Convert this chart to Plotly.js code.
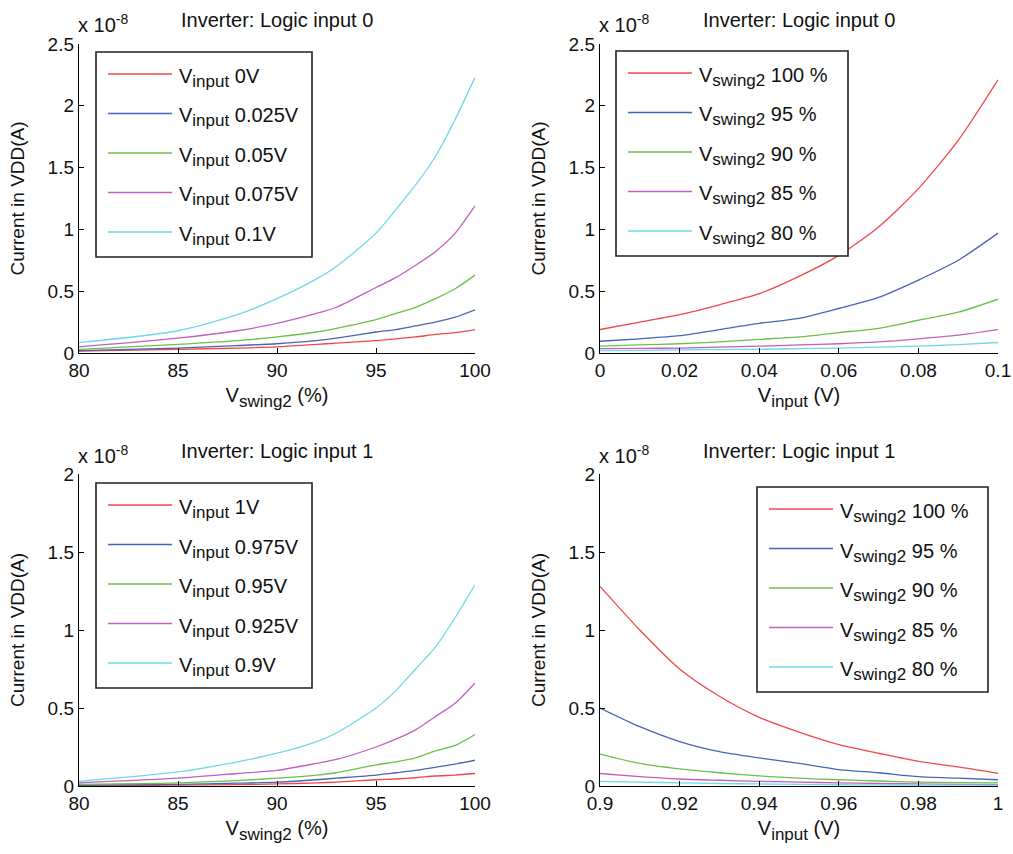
<!DOCTYPE html>
<html>
<head>
<meta charset="utf-8">
<script src="https://cdn.plot.ly/plotly-3.0.1.min.js"></script>
<style>html,body{margin:0;padding:0;background:#fff;}#chart{width:1013px;height:854px;}</style>
</head>
<body>
<div id="chart"></div>
<script>
// Values in units of 1e-8 A
const vswing = [80, 85, 88, 90, 92, 93, 95, 96, 97, 98, 99, 100];
const vin0 = [0, 0.01, 0.02, 0.03, 0.04, 0.05, 0.06, 0.07, 0.08, 0.09, 0.1];
const vin1 = [0.9, 0.91, 0.92, 0.93, 0.94, 0.95, 0.96, 0.97, 0.98, 0.99, 1.0];

// Panel 1: logic input 0, current vs Vswing2, one series per Vinput
const p1Labels = ["0V", "0.025V", "0.05V", "0.075V", "0.1V"];
const p1_0V    = [0.015, 0.03, 0.04, 0.05, 0.07, 0.08, 0.10, 0.115, 0.13, 0.15, 0.165, 0.19];
const p1_025V  = [0.02, 0.04, 0.06, 0.075, 0.10, 0.12, 0.17, 0.19, 0.22, 0.25, 0.29, 0.35];
const p1_05V   = [0.03, 0.07, 0.10, 0.13, 0.17, 0.20, 0.27, 0.32, 0.37, 0.44, 0.52, 0.63];
const p1_075V  = [0.05, 0.12, 0.18, 0.24, 0.32, 0.37, 0.53, 0.61, 0.71, 0.82, 0.97, 1.19];
const p1_1V    = [0.084, 0.18, 0.31, 0.44, 0.60, 0.70, 0.97, 1.16, 1.36, 1.59, 1.89, 2.23];

// Panel 2: logic input 0, current vs Vinput, one series per Vswing2
const p2Labels = ["100 %", "95 %", "90 %", "85 %", "80 %"];
const p2_100 = [0.19, 0.25, 0.31, 0.39, 0.48, 0.62, 0.79, 1.02, 1.33, 1.72, 2.21];
const p2_95  = [0.095, 0.115, 0.14, 0.19, 0.24, 0.28, 0.36, 0.45, 0.59, 0.75, 0.97];
const p2_90  = [0.055, 0.065, 0.075, 0.09, 0.11, 0.13, 0.165, 0.20, 0.265, 0.33, 0.435];
const p2_85  = [0.035, 0.037, 0.04, 0.047, 0.055, 0.065, 0.075, 0.09, 0.115, 0.145, 0.19];
const p2_80  = [0.02, 0.022, 0.025, 0.028, 0.03, 0.035, 0.04, 0.047, 0.055, 0.068, 0.085];

// Panel 3: logic input 1, current vs Vswing2, one series per Vinput
const p3Labels = ["1V", "0.975V", "0.95V", "0.925V", "0.9V"];
const p3_1V    = [0.002, 0.005, 0.009, 0.013, 0.02, 0.025, 0.04, 0.045, 0.053, 0.064, 0.07, 0.08];
const p3_975V  = [0.005, 0.01, 0.018, 0.025, 0.04, 0.05, 0.07, 0.085, 0.10, 0.12, 0.14, 0.165];
const p3_95V   = [0.01, 0.02, 0.035, 0.05, 0.07, 0.085, 0.135, 0.155, 0.18, 0.225, 0.26, 0.33];
const p3_925V  = [0.02, 0.05, 0.08, 0.10, 0.145, 0.17, 0.25, 0.30, 0.36, 0.445, 0.53, 0.66];
const p3_9V    = [0.03, 0.09, 0.155, 0.21, 0.285, 0.34, 0.50, 0.61, 0.75, 0.89, 1.08, 1.29];

// Panel 4: logic input 1, current vs Vinput, one series per Vswing2
const p4Labels = ["100 %", "95 %", "90 %", "85 %", "80 %"];
const p4_100 = [1.28, 1.00, 0.75, 0.575, 0.44, 0.345, 0.265, 0.21, 0.158, 0.122, 0.081];
const p4_95  = [0.50, 0.38, 0.285, 0.22, 0.18, 0.145, 0.105, 0.085, 0.06, 0.05, 0.04];
const p4_90  = [0.205, 0.145, 0.11, 0.085, 0.065, 0.05, 0.04, 0.032, 0.025, 0.022, 0.02];
const p4_85  = [0.08, 0.06, 0.045, 0.037, 0.03, 0.025, 0.02, 0.016, 0.013, 0.01, 0.008];
const p4_80  = [0.03, 0.025, 0.02, 0.016, 0.013, 0.01, 0.008, 0.007, 0.006, 0.005, 0.005];

const colors = ["#f04848", "#4a64b4", "#6cc04a", "#c060c0", "#70d8e8"];
const FONT = "Liberation Sans, Arial, sans-serif";
const W = 1013, H = 854;
const px = v => v / W, py = v => 1 - v / H;
const subTxt = s => "V<sub><span style=\"font-size:17px\">" + s + "</span></sub>";

const traces = [];
function addPanel(x, ys, labels, sub, xa, ya) {
  ys.forEach((y, i) => {
    traces.push({
      x: x, y: y, type: "scatter", mode: "lines",
      line: {color: colors[i], width: 1.3, shape: "spline", smoothing: 0.7},
      name: "V" + sub + " " + labels[i], showlegend: false,
      xaxis: xa, yaxis: ya
    });
  });
}
addPanel(vswing, [p1_0V, p1_025V, p1_05V, p1_075V, p1_1V], p1Labels, "input", "x", "y");
addPanel(vin0, [p2_100, p2_95, p2_90, p2_85, p2_80], p2Labels, "swing2", "x2", "y2");
addPanel(vswing, [p3_1V, p3_975V, p3_95V, p3_925V, p3_9V], p3Labels, "input", "x3", "y3");
addPanel(vin1, [p4_100, p4_95, p4_90, p4_85, p4_80], p4Labels, "swing2", "x4", "y4");

const xL = [px(79), px(475)], xR = [px(600), px(998)];
const yT = [py(353), py(44)], yB = [py(786), py(474)];

const tickFont = {family: FONT, size: 19, color: "#111"};
const axTitleFont = {family: FONT, size: 20, color: "#111"};
function xax(dom, range, dtick, title, anchor) {
  return {
    domain: dom, range: range, dtick: dtick, tick0: range[0], anchor: anchor,
    showline: true, linecolor: "#000", linewidth: 1.2, mirror: false,
    ticks: "inside", ticklen: 5, tickcolor: "#000", showgrid: false, zeroline: false,
    tickfont: tickFont,
    title: {text: title, font: axTitleFont, standoff: 8},
    automargin: false, fixedrange: true
  };
}
function yax(dom, range, dtick, anchor) {
  return {
    domain: dom, range: range, dtick: dtick, tick0: 0, anchor: anchor,
    showline: true, linecolor: "#000", linewidth: 1.2, mirror: false,
    ticks: "inside", ticklen: 5, tickcolor: "#000", showgrid: false, zeroline: false,
    tickfont: tickFont,
    title: {text: "Current in VDD(A)", font: {family: FONT, size: 19, color: "#111"}, standoff: 18},
    automargin: false, fixedrange: true
  };
}

// Hand-built legends (MATLAB style: long line sample, large subscripts)
const shapes = [];
const annotations = [];
function makeLegend(left, top, width, labels, sub) {
  const height = 205;
  shapes.push({type: "rect", xref: "paper", yref: "paper",
    x0: px(left), x1: px(left + width), y0: py(top + height), y1: py(top),
    line: {color: "#222", width: 1.6}, fillcolor: "#fff", layer: "above"});
  labels.forEach((lab, i) => {
    const ly = top + 22 + i * 39.5;
    shapes.push({type: "line", xref: "paper", yref: "paper",
      x0: px(left + 12), x1: px(left + 76), y0: py(ly), y1: py(ly),
      line: {color: colors[i], width: 1.5}, layer: "above"});
    annotations.push({
      text: subTxt(sub) + " " + lab,
      x: px(left + 81), y: py(ly + 4), xref: "paper", yref: "paper",
      xanchor: "left", yanchor: "middle", showarrow: false,
      font: {family: FONT, size: 20, color: "#111"}
    });
  });
}
makeLegend(96, 52, 216, p1Labels, "input");
makeLegend(616, 51, 232, p2Labels, "swing2");
makeLegend(96, 483, 216, p3Labels, "input");
makeLegend(757, 487, 231, p4Labels, "swing2");

const titleFont = {family: FONT, size: 20, color: "#111"};
const expFont = {family: FONT, size: 20, color: "#111"};
const titles = ["Inverter: Logic input 0", "Inverter: Logic input 0", "Inverter: Logic input 1", "Inverter: Logic input 1"];
const titlePos = [[xL, 20], [xR, 20], [xL, 451], [xR, 451]];
titles.forEach((t, i) => {
  const [dom, yc] = titlePos[i];
  annotations.push({text: t, x: (dom[0] + dom[1]) / 2, y: py(yc), xref: "paper", yref: "paper",
    showarrow: false, font: titleFont, xanchor: "center", yanchor: "middle"});
});
[[xL, 38], [xR, 38], [xL, 469], [xR, 469]].forEach(([dom, yb]) => {
  annotations.push({text: "x 10<sup>-8</sup>", x: dom[0], y: py(yb), xref: "paper", yref: "paper",
    showarrow: false, font: expFont, xanchor: "left", yanchor: "bottom", xshift: -3});
});

const layout = {
  width: W, height: H,
  margin: {l: 0, r: 0, t: 0, b: 0},
  paper_bgcolor: "#fff", plot_bgcolor: "#fff",
  font: {family: FONT, color: "#111"},
  showlegend: false,
  xaxis: xax(xL, [80, 100], 5, subTxt("swing2") + " (%)", "y"),
  yaxis: yax(yT, [0, 2.5], 0.5, "x"),
  xaxis2: xax(xR, [0, 0.1], 0.02, subTxt("input") + " (V)", "y2"),
  yaxis2: yax(yT, [0, 2.5], 0.5, "x2"),
  xaxis3: xax(xL, [80, 100], 5, subTxt("swing2") + " (%)", "y3"),
  yaxis3: yax(yB, [0, 2], 0.5, "x3"),
  xaxis4: xax(xR, [0.9, 1], 0.02, subTxt("input") + " (V)", "y4"),
  yaxis4: yax(yB, [0, 2], 0.5, "x4"),
  shapes: shapes,
  annotations: annotations
};

Plotly.newPlot("chart", traces, layout, {displayModeBar: false, staticPlot: true});
</script>
</body>
</html>
